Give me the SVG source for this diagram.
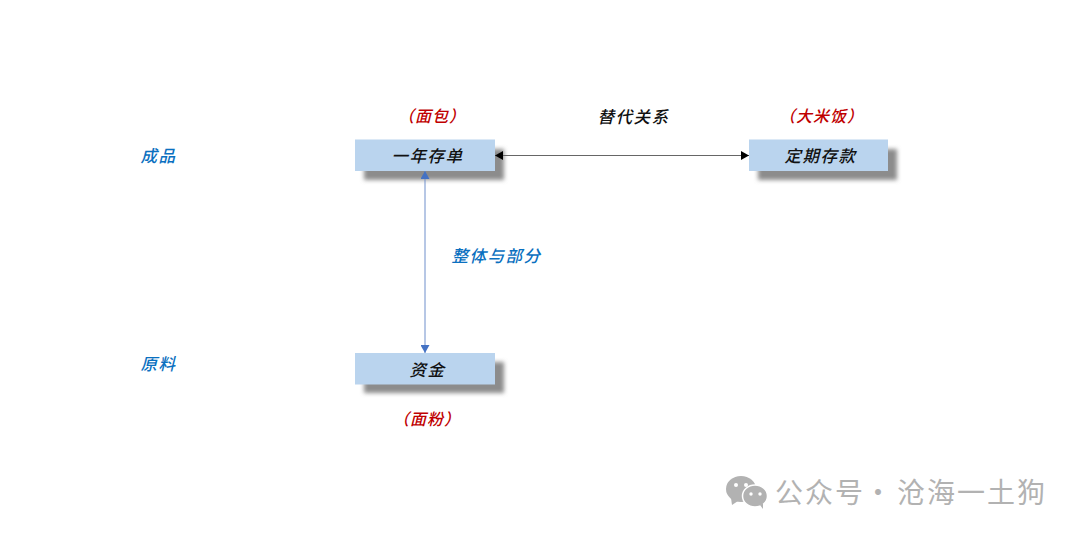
<svg xmlns="http://www.w3.org/2000/svg" width="1080" height="536" viewBox="0 0 1080 536">
<style>
text{font-family:"Noto Sans CJK SC","Noto Sans",sans-serif;text-anchor:middle;font-style:italic;font-weight:500}
.n{fill:#bad4ee}
.s{fill:#8c8c8c;filter:url(#b)}
.k{font-size:16.5px;fill:#111;letter-spacing:1.500px}
.r{font-size:16px;fill:#c00000;letter-spacing:1px}
.c{font-size:16.5px;fill:#0a70c0;letter-spacing:1.500px}
.w{font-family:"Noto Sans CJK SC","Noto Sans",sans-serif;font-style:normal;font-weight:400;font-size:28px;fill:#b2b2b2;letter-spacing:2px;text-anchor:start}
</style>
<defs>
<filter id="b" x="-10%" y="-30%" width="120%" height="160%"><feGaussianBlur stdDeviation="2.200"/></filter>
<marker id="ak" markerUnits="userSpaceOnUse" markerWidth="9" markerHeight="9" refX="8" refY="4.5" orient="auto-start-reverse"><path d="M0 0L8 4.5L0 9z" fill="#000"/></marker>
<marker id="ab" markerUnits="userSpaceOnUse" markerWidth="9" markerHeight="9" refX="8" refY="4.5" orient="auto-start-reverse"><path d="M0 0L8 4.5L0 9z" fill="#4472c4"/></marker>
</defs>
<rect width="1080" height="536" fill="#fff"/>
<g id="node-cd">
<rect class="s" x="364" y="149" width="140" height="31"/>
<rect class="n" x="355" y="139.500" width="140" height="31.500"/>
<text class="k" x="427.500" y="162">一年存单</text>
</g>
<g id="node-dq">
<rect class="s" x="758" y="149" width="139" height="31"/>
<rect class="n" x="749" y="139.500" width="139" height="31.500"/>
<text class="k" x="820.500" y="162">定期存款</text>
</g>
<g id="node-zj">
<rect class="s" x="364" y="362" width="140" height="31"/>
<rect class="n" x="355" y="353" width="140" height="31.500"/>
<text class="k" x="427.500" y="376">资金</text>
</g>
<g id="connectors">
<line x1="495" y1="155.500" x2="749" y2="155.500" stroke="#666" stroke-width="1" marker-start="url(#ak)" marker-end="url(#ak)"/>
<line x1="425" y1="171" x2="425" y2="353" stroke="#6f8fcb" stroke-width="1" marker-start="url(#ab)" marker-end="url(#ab)"/>
</g>
<g id="labels">
<text class="r" x="432" y="122">（面包）</text>
<text class="r" x="821.500" y="122">（大米饭）</text>
<text class="r" x="427" y="425">（面粉）</text>
<text class="k" x="633.500" y="123">替代关系</text>
<text class="c" x="158.500" y="162">成品</text>
<text class="c" x="158.500" y="370">原料</text>
<text class="c" x="496.500" y="262">整体与部分</text>
</g>
<g id="watermark">
<ellipse cx="741" cy="489" rx="15" ry="13" fill="#b2b2b2"/>
<path d="M731 498l1 7 6-4z" fill="#b2b2b2"/>
<ellipse cx="755" cy="496" rx="12.500" ry="11" fill="#b2b2b2" stroke="#fff" stroke-width="1.500"/>
<path d="M760 505l3 4 0-6z" fill="#b2b2b2"/>
<circle cx="736" cy="485" r="2" fill="#fff"/><circle cx="746" cy="485" r="2" fill="#fff"/>
<circle cx="751" cy="494" r="1.700" fill="#fff"/><circle cx="760" cy="494" r="1.700" fill="#fff"/>
<text class="w" x="775" y="503">公众号<tspan x="864">·</tspan><tspan x="897">沧海一土狗</tspan></text>
</g>
</svg>
